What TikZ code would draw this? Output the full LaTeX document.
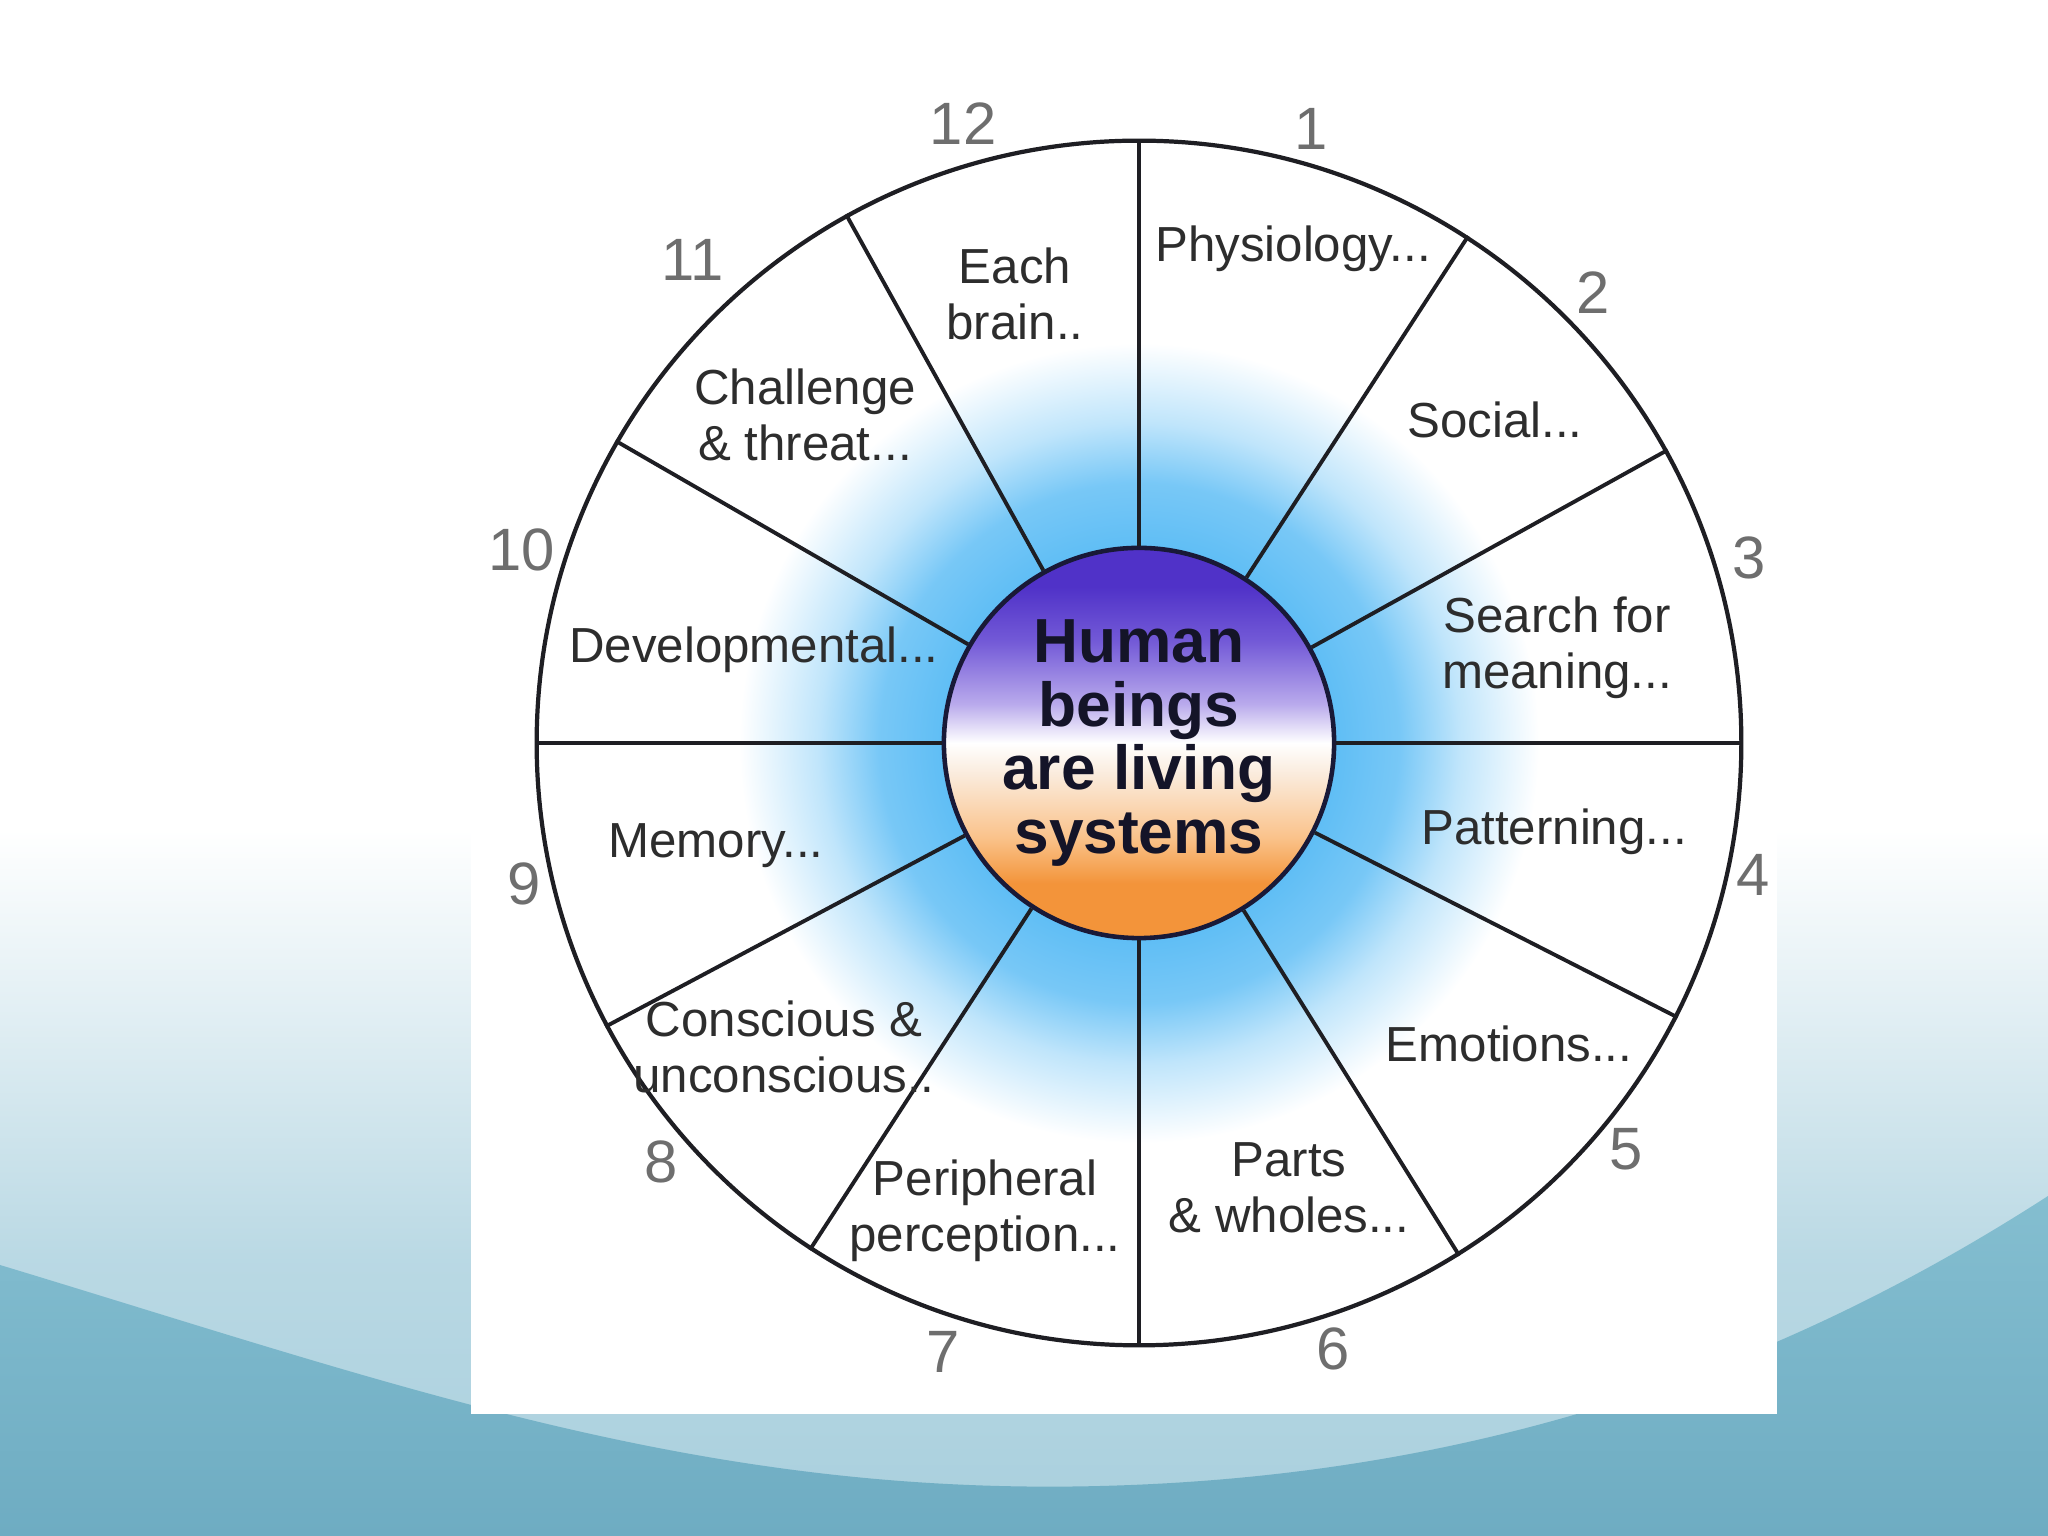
\documentclass[tikz,border=0pt]{standalone}
\usepackage{fontspec}
\setsansfont{Liberation Sans}
\usetikzlibrary{calc}
\definecolor{slidemist}{RGB}{168,207,221}
\definecolor{slideteal}{RGB}{110,172,194}
\definecolor{slidedeep}{RGB}{132,190,208}
\definecolor{glowblue}{RGB}{96,190,245}
\definecolor{hubpurple}{RGB}{80,50,200}
\definecolor{hubviolet}{RGB}{115,90,215}
\definecolor{hublavender}{RGB}{185,170,236}
\definecolor{hubcream}{RGB}{250,235,220}
\definecolor{hubpeach}{RGB}{250,195,140}
\definecolor{huborange}{RGB}{243,148,58}
\definecolor{hubline}{RGB}{25,25,55}
\definecolor{hubtext}{RGB}{20,20,40}
\definecolor{wheelline}{RGB}{30,30,35}
\definecolor{labelgray}{RGB}{45,45,45}
\definecolor{numgray}{RGB}{110,110,110}
\tikzset{every picture/.style={/utils/exec={\sffamily}}}

% tikz fits the path into the 25bp..75bp part of a shading
\pgfdeclareverticalshading{slidefade}{100bp}{color(0bp)=(slidemist); color(25bp)=(slidemist); color(34bp)=(slidemist!80!white); color(48bp)=(white); color(100bp)=(white)}
\pgfdeclareverticalshading{wavefade}{100bp}{color(0bp)=(slideteal); color(25bp)=(slideteal); color(75bp)=(slidedeep); color(100bp)=(slidedeep)}
\pgfdeclareradialshading{glow}{\pgfpoint{0bp}{0bp}}{color(0bp)=(glowblue); color(8.2bp)=(glowblue); color(10.8bp)=(glowblue!85!white); color(13.3bp)=(glowblue!40!white); color(16.6bp)=(white); color(50bp)=(white)}
\pgfdeclareverticalshading{hubfade}{100bp}{color(0bp)=(huborange); color(32bp)=(huborange); color(38bp)=(hubpeach); color(46bp)=(hubcream); color(50bp)=(white); color(55bp)=(hublavender); color(63bp)=(hubviolet); color(70bp)=(hubpurple); color(100bp)=(hubpurple)}

\begin{document}
\begin{tikzpicture}[x=0.01cm, y=0.01cm,
  spoke/.style={draw=wheelline, line width=1.1pt},
  topic/.style={text=labelgray, align=center, font=\fontsize{14}{16}\selectfont},
  num/.style={text=numgray, font=\fontsize{17}{17}\selectfont}]
  \useasboundingbox (0,0) rectangle (2048,1536);
  \shade[shading=slidefade] (0,0) rectangle (2048,1536);
  \shade[shading=wavefade] (0,271) .. controls (400,150) and (700,40) .. (1100,50)
    .. controls (1500,60) and (1800,180) .. (2048,340) -- (2048,0) -- (0,0) -- cycle;
  \fill[white] (471,122) rectangle (1777,1438);

  \coordinate (c) at (1139,793);
  \shade[shading=glow] (c) circle (6.02cm);
  \node[circle, draw=wheelline, line width=1.2pt, minimum size=12.04cm, inner sep=0pt] (rim) at (c) {};
  \node[circle, shade, shading=hubfade, draw=hubline, line width=1.3pt, minimum size=3.9cm, inner sep=0pt,
    text=hubtext, align=center, font=\bfseries\fontsize{17.7}{18.1}\selectfont] (hub) at (c)
    {Human\\beings\\are living\\systems};

  \foreach \a in {0,29,57.5,90,119.5,150,180,208,237,270,302.5,333}
    \draw[spoke] (hub.\a) -- (rim.\a);

  \node[topic] (t1) at (1293,1287) {Physiology...};
  \node[topic] (t2) at (1495,1116) {Social...};
  \node[topic] (t3) at (1557,888) {Search for\\meaning...};
  \node[topic] (t4) at (1554,704) {Patterning...};
  \node[topic] (t5) at (1509,492) {Emotions...};
  \node[topic] (t6) at (1289,348) {Parts\\\& wholes...};
  \node[topic] (t7) at (985,325) {Peripheral\\perception...};
  \node[topic] (t8) at (784,489) {Conscious \&\\unconscious..};
  \node[topic] (t9) at (716,690) {Memory...};
  \node[topic] (t10) at (754,886) {Developmental...};
  \node[topic] (t11) at (805,1121) {Challenge\\\& threat...};
  \node[topic] (t12) at (1015,1242) {Each\\brain..};

  \foreach \n/\x/\y in {1/1311/1407, 2/1593/1243, 3/1749/978, 4/1753/661, 5/1626/387, 6/1333/187,
      7/943/184, 8/661/374, 9/524/652, 10/522/986, 11/693/1276, 12/963/1412}
    \node[num] (n\n) at (\x,\y) {\n};
\end{tikzpicture}
\end{document}
